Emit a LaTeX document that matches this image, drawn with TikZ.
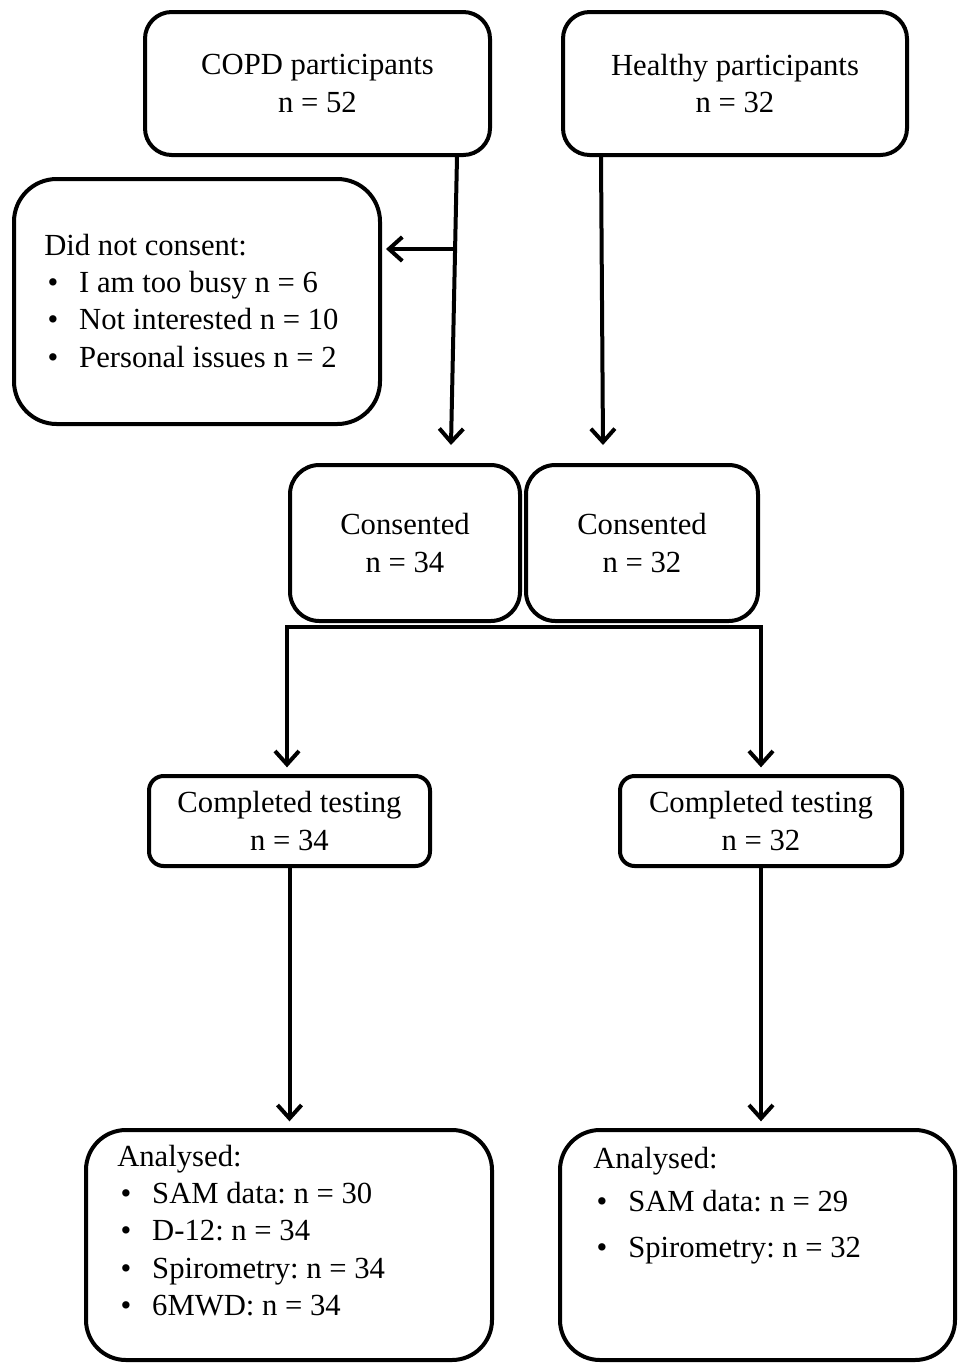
\documentclass[tikz,border=0pt]{standalone}
\usepackage{fontspec}
\setmainfont{Liberation Serif}
\usetikzlibrary{arrows.meta,calc}
\frenchspacing
\newcommand{\bitem}[1]{\makebox[26.25pt][l]{\hspace{2.5pt}\textbullet}#1}
\begin{document}
\begin{tikzpicture}[x=0.75pt,y=-0.75pt,
  box/.style={draw, line width=3pt, align=center, inner sep=0pt, font=\fontsize{23}{27.9}\selectfont},
  txt/.style={inner sep=0pt, align=left, anchor=north west, font=\fontsize{23}{27.9}\selectfont},
  tipstyle/.style={line width=3pt, line join=miter},
  arr/.style={tipstyle, -{Straight Barb[length=10pt,width=18pt]}}]
\useasboundingbox (0,0) rectangle (959,1365);
% top boxes
\node[box, minimum width=258.75pt, minimum height=107.25pt, rounded corners=20pt] (copd) at (317.5,83.5) {COPD participants\\n = 52};
\node[box, minimum width=258pt, minimum height=107.25pt, rounded corners=20pt] (healthy) at (735,83.5) {Healthy participants\\n = 32};
% did not consent
\node[box, minimum width=274.5pt, minimum height=183.75pt, rounded corners=32pt] (dnc) at (197,301.5) {};
\node[txt] (dnctext) at (44,234) {Did not consent:\\\bitem{I am too busy n = 6}\\\bitem{Not interested n = 10}\\\bitem{Personal issues n = 2}};
% consented
\node[box, minimum width=172.5pt, minimum height=117pt, rounded corners=22pt] (cons1) at (405,543) {Consented\\n = 34};
\node[box, minimum width=174pt, minimum height=117pt, rounded corners=22pt] (cons2) at (642,543) {Consented\\n = 32};
% completed testing
\node[box, minimum width=210.75pt, minimum height=67.5pt, rounded corners=11pt] (ct1) at (289.5,821) {Completed testing\\n = 34};
\node[box, minimum width=211.5pt, minimum height=67.5pt, rounded corners=11pt] (ct2) at (761,821) {Completed testing\\n = 32};
% analysed
\node[box, minimum width=304.5pt, minimum height=172.5pt, rounded corners=30pt] (an1) at (289,1245) {};
\node[txt] (an1text) at (117,1145) {Analysed:\\\bitem{SAM data: n = 30}\\\bitem{D-12: n = 34}\\\bitem{Spirometry: n = 34}\\\bitem{6MWD: n = 34}};
\node[box, minimum width=296.25pt, minimum height=172.5pt, rounded corners=30pt] (an2) at (757.5,1245) {};
\node[txt] (an2text) at (593,1147) {Analysed:\\[4.3pt]\bitem{SAM data: n = 29}\\[6.6pt]\bitem{Spirometry: n = 32}};
% connectors
\draw[arr] ($(copd.south east)+(-35,0)$) -- ($(cons1.north)+(46,-18)$);
\coordinate (j) at ($(copd.south east)+(-37,92)$);
\draw[arr, shorten >=3pt] (j) -- (dnc.east |- j);
\draw[arr] ($(healthy.south west)+(40,0)$) -- ($(cons2.north)+(-39,-18)$);
\coordinate (b1) at ($(cons1.south west)+(-1,4)$);
\coordinate (b2) at ($(cons2.south east)+(1,4)$);
\draw[tipstyle, {Straight Barb[length=10pt,width=18pt]}-{Straight Barb[length=10pt,width=18pt]}, shorten <=5pt, shorten >=5pt]
  (b1 |- ct1.north) -- (b1) -- (b2) -- (b2 |- ct2.north);
\draw[arr, shorten >=5pt] (ct1.south) -- (ct1.south |- an1.north);
\draw[arr, shorten >=5pt] (ct2.south) -- (ct2.south |- an2.north);
\end{tikzpicture}
\end{document}
